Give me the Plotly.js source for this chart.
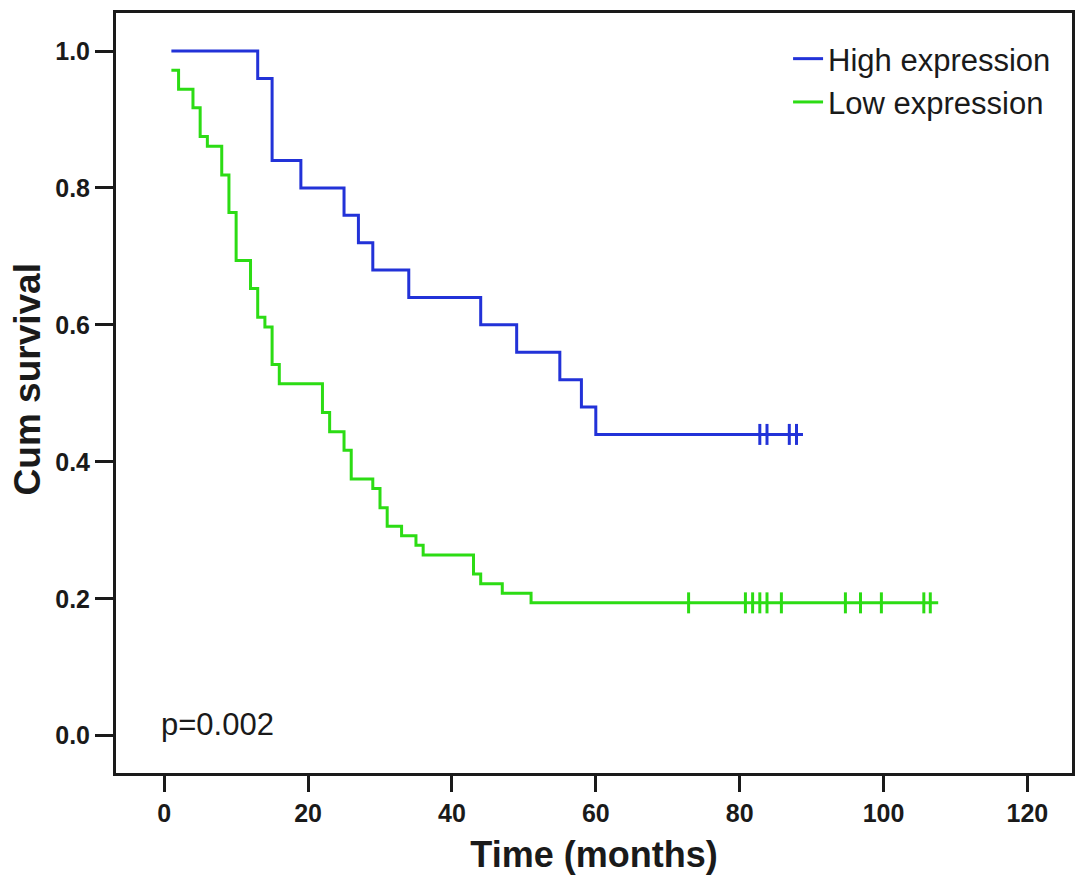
<!DOCTYPE html>
<html>
<head>
<meta charset="utf-8">
<script src="https://cdn.plot.ly/plotly-3.0.1.min.js"></script>
<style>
  html, body { margin: 0; padding: 0; background: #fff; }
  #chart { width: 1087px; height: 886px; }
</style>
</head>
<body>
<div id="chart"></div>
<script>
// Kaplan-Meier curves (time in months, cumulative survival)
var highTimes = [1, 13, 15, 19, 25, 27, 29, 34, 44, 49, 55, 58, 60, 88.8];
var highSurv = [1.0, 0.96, 0.84, 0.80, 0.76, 0.72, 0.68, 0.64, 0.60, 0.56, 0.52, 0.48, 0.44, 0.44];
var highCensor = [82.8, 83.8, 86.9, 87.9];

var lowTimes = [1, 2, 4, 5, 6, 8, 9, 10, 12, 13, 14, 15, 16, 22, 23, 25, 26, 29, 30, 31, 33, 35, 36, 43, 44, 47, 51, 107.6];
var lowSurv = [0.972, 0.944, 0.917, 0.875, 0.861, 0.819, 0.764, 0.694, 0.653, 0.611, 0.597, 0.542, 0.514,
               0.472, 0.444, 0.417, 0.375, 0.361, 0.333, 0.306, 0.292, 0.278, 0.264, 0.236, 0.222, 0.208, 0.194, 0.194];
var lowCensor = [72.9, 80.8, 81.8, 82.8, 83.8, 85.8, 94.7, 96.8, 99.7, 105.6, 106.5];

var seriesNames = ['High expression', 'Low expression'];
var xTicks = [0, 20, 40, 60, 80, 100, 120];
var yTicks = [0.0, 0.2, 0.4, 0.6, 0.8, 1.0];

var blue = '#2232d8';
var green = '#2cdc14';
var ink = '#1a1a1a';
var font = 'Liberation Sans, Arial, sans-serif';

function fill(n, v) {
  var out = [];
  for (var i = 0; i < n; i++) out.push(v);
  return out;
}

// censor ticks sit on the last survival value of each curve
function censorTrace(times, surv, color) {
  return {
    x: times, y: fill(times.length, surv[surv.length - 1]),
    type: 'scatter', mode: 'markers', showlegend: false, hoverinfo: 'skip',
    marker: {symbol: 'line-ns-open', size: 15, color: color, line: {color: color, width: 3}}
  };
}

var data = [
  {
    x: highTimes, y: highSurv, name: seriesNames[0], type: 'scatter', mode: 'lines',
    line: {color: blue, width: 3, shape: 'hv'}
  },
  {
    x: lowTimes, y: lowSurv, name: seriesNames[1], type: 'scatter', mode: 'lines',
    line: {color: green, width: 3, shape: 'hv'}
  },
  censorTrace(highCensor, highSurv, blue),
  censorTrace(lowCensor, lowSurv, green)
];

var layout = {
  width: 1087, height: 886,
  margin: {l: 116, r: 15, t: 13, b: 113},
  paper_bgcolor: '#fff', plot_bgcolor: '#fff',
  font: {family: font, color: ink},
  showlegend: true,
  legend: {
    x: 0.703, y: 0.975, xanchor: 'left', yanchor: 'top',
    bgcolor: 'rgba(0,0,0,0)', borderwidth: 0,
    font: {family: font, size: 31, color: ink},
    tracegroupgap: 0, itemwidth: 30
  },
  xaxis: {
    range: [-6.7, 126.2], tickvals: xTicks, ticktext: xTicks.map(String),
    showgrid: false, zeroline: false,
    showline: true, mirror: true, linecolor: ink, linewidth: 3,
    ticks: 'outside', ticklen: 16, tickwidth: 3, tickcolor: ink,
    tickfont: {family: font, size: 25, color: ink, weight: 'bold'},
    title: {text: 'Time (months)', font: {family: font, size: 36, color: ink, weight: 'bold'}, standoff: 16}
  },
  yaxis: {
    range: [-0.0545, 1.0555], tickvals: yTicks, ticktext: yTicks.map(function (v) { return v.toFixed(1); }),
    showgrid: false, zeroline: false,
    showline: true, mirror: true, linecolor: ink, linewidth: 3,
    ticks: 'outside', ticklen: 18, tickwidth: 3, tickcolor: ink,
    tickfont: {family: font, size: 25, color: ink, weight: 'bold'}
  },
  annotations: [
    {
      x: -0.093, y: 0.518, xref: 'paper', yref: 'paper', xanchor: 'center', yanchor: 'middle',
      text: '<b>Cum survival</b>', textangle: -90, showarrow: false,
      font: {family: font, size: 37, color: ink}
    },
    {
      x: -0.7, y: 0.016, xref: 'x', yref: 'y', xanchor: 'left', yanchor: 'middle',
      text: 'p=0.002', showarrow: false,
      font: {family: font, size: 31, color: ink}
    }
  ]
};

Plotly.newPlot('chart', data, layout, {staticPlot: true, displayModeBar: false});
</script>
</body>
</html>
